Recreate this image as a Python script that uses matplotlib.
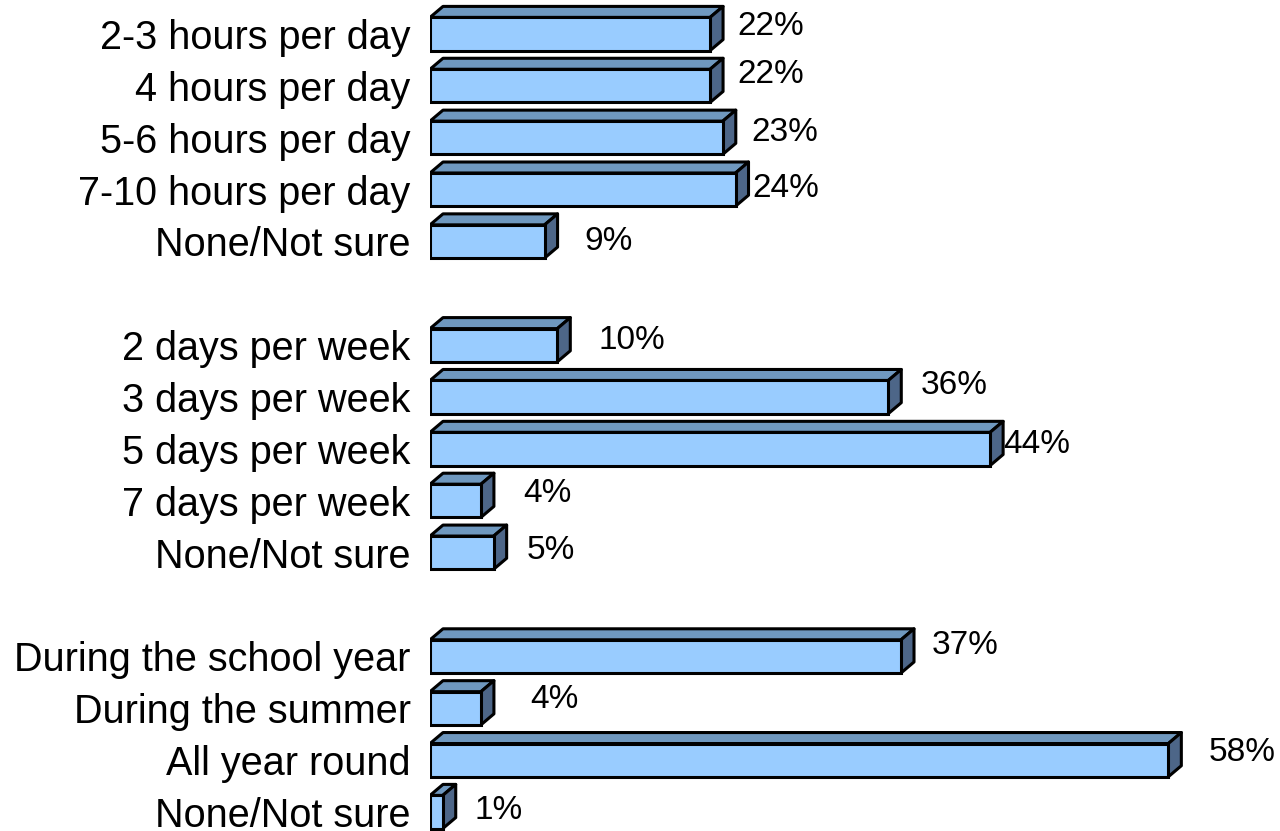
import matplotlib.pyplot as plt
from matplotlib.patches import Polygon

plt.rcParams['font.family'] = ['Liberation Sans', 'DejaVu Sans']

# three question blocks, separated by an empty row
hours_labels = ["2-3 hours per day", "4 hours per day", "5-6 hours per day",
                "7-10 hours per day", "None/Not sure"]
hours_values = [22, 22, 23, 24, 9]
days_labels = ["2 days per week", "3 days per week", "5 days per week",
               "7 days per week", "None/Not sure"]
days_values = [10, 36, 44, 4, 5]
season_labels = ["During the school year", "During the summer",
                 "All year round", "None/Not sure"]
season_values = [37, 4, 58, 1]

# label nudges in pixels (the original placement is a bit irregular)
label_dx = [27, 27, 29, 17, 40, 41, 32, 13, 42, 33, 31, 49, 40, 32]
label_dy = [7, 11, 5, 1, 0, 5, 12, 4, 7, 2, 11, 9, 8, 2]

labels = []
values = []
ypos = []
row = 0
for labs, vals in [(hours_labels, hours_values), (days_labels, days_values),
                   (season_labels, season_values)]:
    for l, v in zip(labs, vals):
        labels.append(l)
        values.append(v)
        ypos.append(row)
        row += 1
    row += 1  # blank row between blocks

fig = plt.figure(figsize=(12.8, 8.31), dpi=100)
ax = fig.add_axes([430 / 1280, 0, 850 / 1280, 1])

px_per_pct = 12.73
px_per_row = 51.87
ax.set_xlim(0, 850 / px_per_pct)
ax.set_ylim(15 + 19 / px_per_row, -34 / px_per_row)

h = 0.64
dx = 13 / px_per_pct   # depth of the fake 3d
dy = 11 / px_per_row

front = "#99CCFF"
top = "#6F98BF"
side = "#4D6688"

ax.barh(ypos, values, height=h, color=front, edgecolor="black", linewidth=2.2, zorder=3)
for i, (y, v) in enumerate(zip(ypos, values)):
    y0 = y - h / 2
    y1 = y + h / 2
    ax.add_patch(Polygon([(0, y0), (v, y0), (v + dx, y0 - dy), (dx, y0 - dy)],
                         closed=True, facecolor=top, edgecolor="black",
                         linewidth=2.2, zorder=2, joinstyle="round"))
    ax.add_patch(Polygon([(v, y0), (v + dx, y0 - dy), (v + dx, y1 - dy), (v, y1)],
                         closed=True, facecolor=side, edgecolor="black",
                         linewidth=2.2, zorder=2, joinstyle="round"))
    ax.annotate(f"{v}%", (v, y), xytext=(label_dx[i], label_dy[i]),
                textcoords="offset pixels", ha="left", va="center", fontsize=24)

ax.set_yticks(ypos)
ax.set_yticklabels(labels, fontsize=28.5)
ax.tick_params(axis="y", length=0, pad=14)
ax.set_xticks([])
for s in ax.spines.values():
    s.set_visible(False)

fig.savefig("out.png", dpi=100)
